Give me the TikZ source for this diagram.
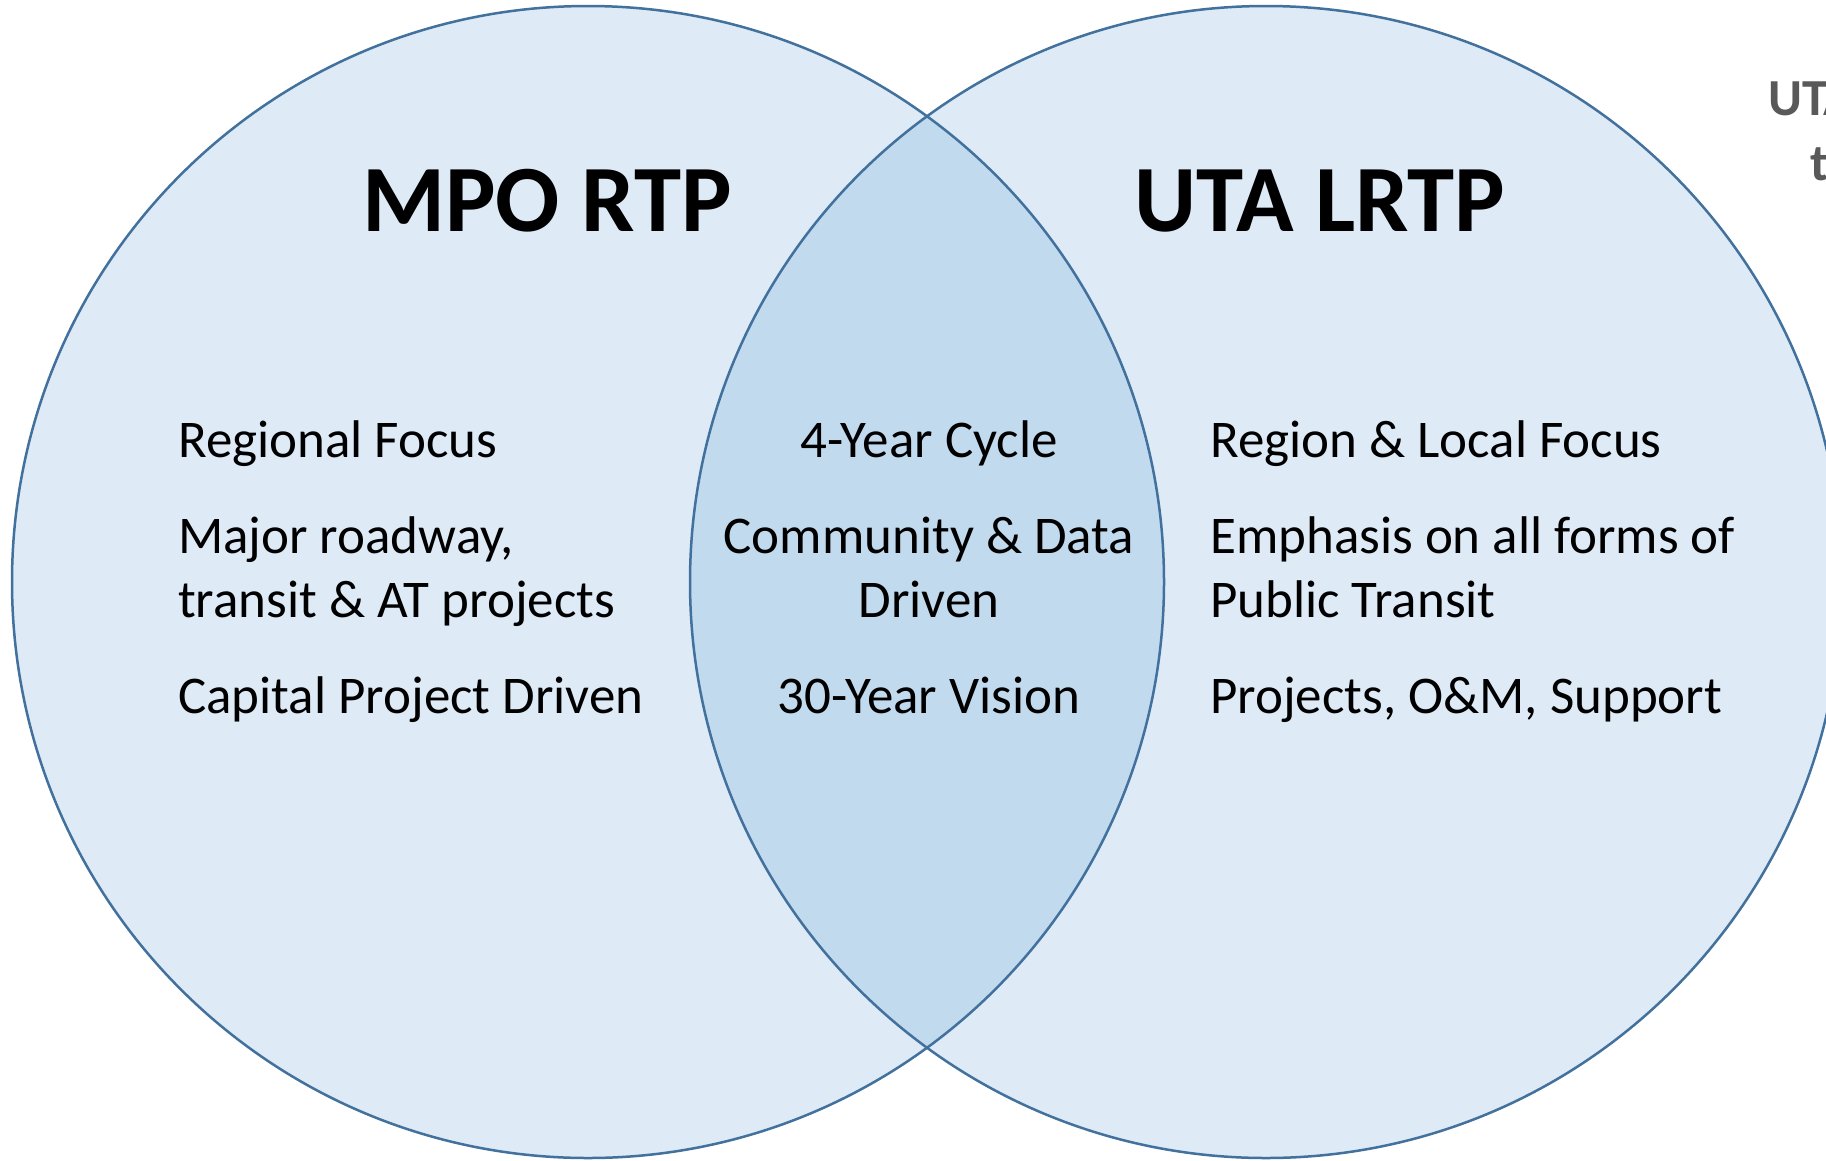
\documentclass[tikz,border=0pt]{standalone}
\usepackage{fontspec}
\setmainfont{Carlito}
\definecolor{vfill}{RGB}{222,234,246}
\definecolor{vover}{RGB}{194,218,238}
\definecolor{vline}{RGB}{65,113,156}
\definecolor{graytxt}{RGB}{89,89,89}
\begin{document}
\begin{tikzpicture}[x=1pt,y=-1pt,
  body/.style={inner sep=0pt, font=\fontsize{53}{64}\selectfont, text=black},
  title/.style={inner sep=0pt, font=\fontsize{95}{110}\selectfont\bfseries, text=black},
  side/.style={inner sep=0pt, font=\fontsize{52}{64}\selectfont\bfseries, text=graytxt},
  ring/.style={draw=vline, line width=2.5pt}]
\useasboundingbox (0,0) rectangle (1826,1160);
\clip (0,0) rectangle (1826,1160);
\fill[white] (0,0) rectangle (1826,1160);
% circles
\fill[vfill] (588,582) circle[radius=576pt];
\fill[vfill] (1266,582) circle[radius=576pt];
\begin{scope}
  \clip (588,582) circle[radius=576pt];
  \fill[vover] (1266,582) circle[radius=576pt];
\end{scope}
\draw[ring] (588,582) circle[radius=576pt];
\draw[ring] (1266,582) circle[radius=576pt];
% titles
\node[title, anchor=base] (tL) at (547,231) {MPO RTP};
\node[title, anchor=base] (tR) at (1320,231) {UTA LRTP};
% left column
\node[body, anchor=base west] (l1) at (178,457) {Regional Focus};
\node[body, anchor=base west] (l2a) at (178,553) {Major roadway,};
\node[body, anchor=base west] (l2b) at (178,617) {transit \& AT projects};
\node[body, anchor=base west] (l3) at (178,713) {Capital Project Driven};
% middle column
\node[body, anchor=base] (m1) at (929,457) {4-Year Cycle};
\node[body, anchor=base] (m2a) at (929,553) {Community \& Data};
\node[body, anchor=base] (m2b) at (929,617) {Driven};
\node[body, anchor=base] (m3) at (929,713) {30-Year Vision};
% right column
\node[body, anchor=base west] (r1) at (1210,457) {Region \& Local Focus};
\node[body, anchor=base west] (r2a) at (1210,553) {Emphasis on all forms of};
\node[body, anchor=base west] (r2b) at (1210,617) {Public Transit};
\node[body, anchor=base west] (r3) at (1210,713) {Projects, O\&M, Support};
% clipped side text
\node[side, anchor=base west] (s1) at (1768,115) {UTA};
\node[side, anchor=base west] (s2) at (1810,180) {t};
\end{tikzpicture}
\end{document}
